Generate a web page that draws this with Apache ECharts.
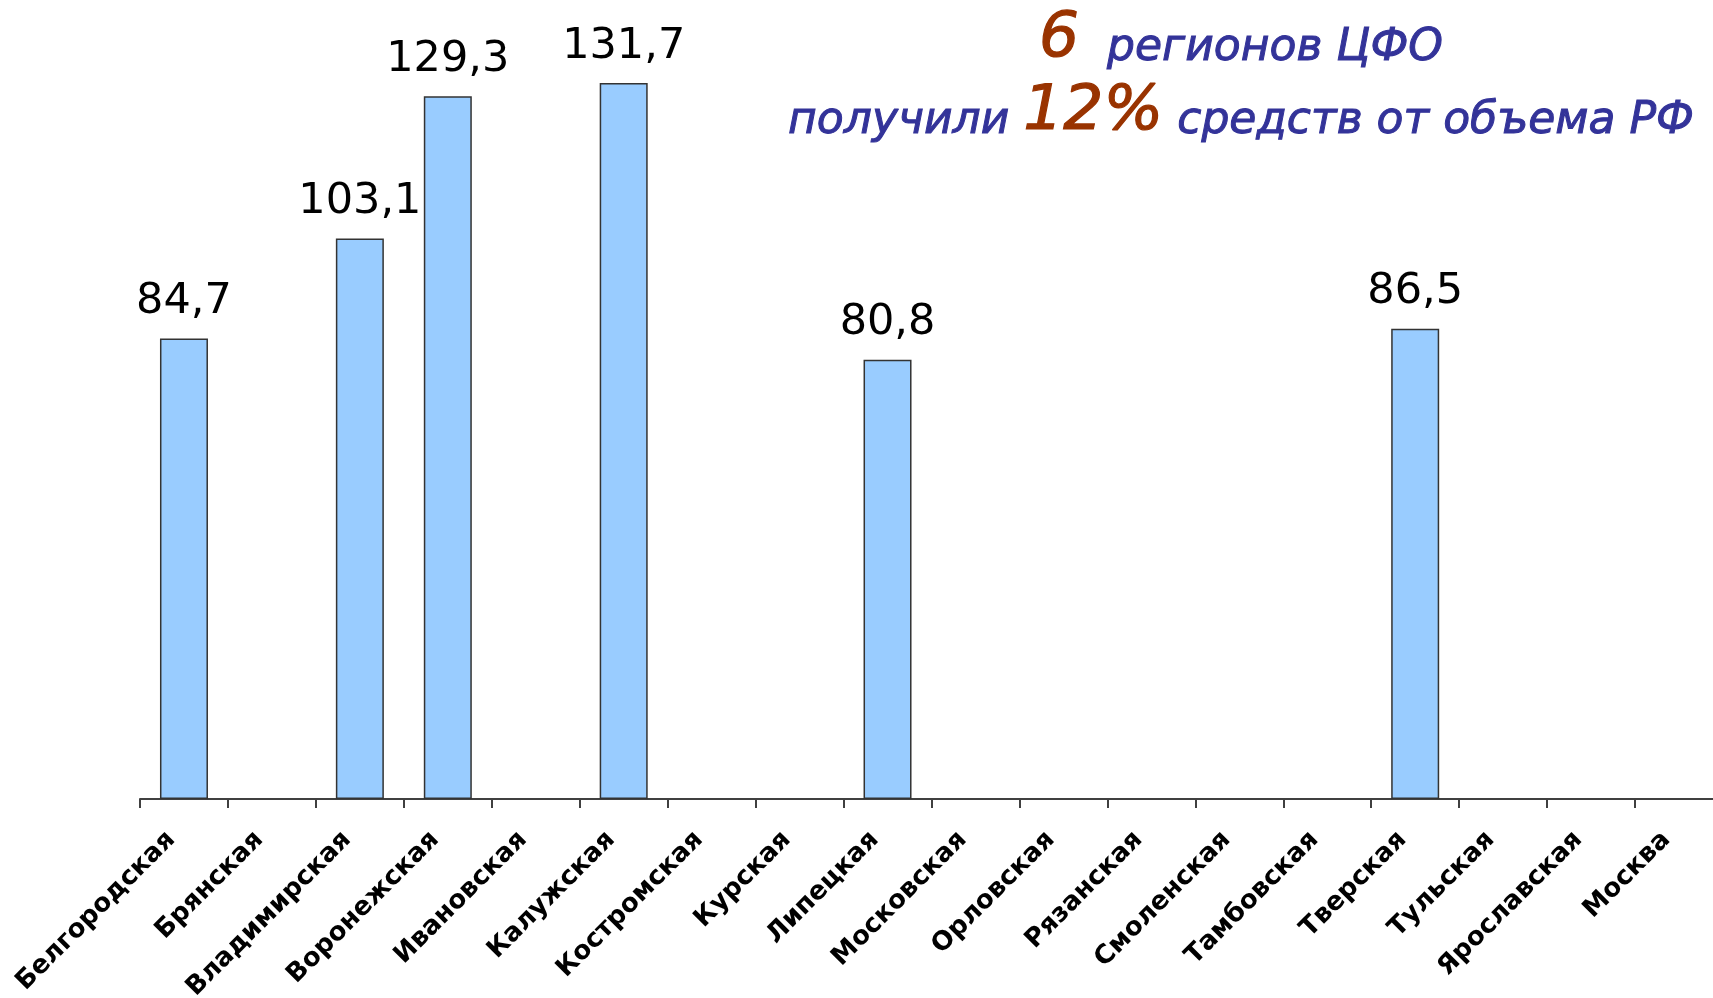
<!DOCTYPE html>
<html>
<head>
<meta charset="utf-8">
<title>Регионы ЦФО</title>
<script src="https://cdn.jsdelivr.net/npm/echarts@6/dist/echarts.min.js"></script>
<style>
    html, body { margin: 0; padding: 0; background: #fff; }
    #chart { width: 1713px; height: 998px; }
</style>
</head>
<body>
<div id="chart"></div>
<script>
var regions = [
    'Белгородская', 'Брянская', 'Владимирская', 'Воронежская', 'Ивановская',
    'Калужская', 'Костромская', 'Курская', 'Липецкая', 'Московская',
    'Орловская', 'Рязанская', 'Смоленская', 'Тамбовская', 'Тверская',
    'Тульская', 'Ярославская', 'Москва'
];
var amounts = [
    84.7, null, 103.1, 129.3, null,
    131.7, null, null, 80.8, null,
    null, null, null, null, 86.5,
    null, null, null
];
var headlineRegions = '6';
var headlineShare = '12%';

var myChart = echarts.init(document.getElementById('chart'));

var option = {
    animation: false,
    title: {
        text: [
            '{big|' + headlineRegions + '}{txt|  регионов ЦФО}',
            '{txt|получили }{big|' + headlineShare + '}{txt| средств от объема РФ}'
        ].join('\n'),
        left: 1236,
        top: -7,
        textAlign: 'center',
        textStyle: {
            fontFamily: 'DejaVu Sans',
            fontStyle: 'italic',
            fontWeight: 'normal',
            rich: {
                big: {
                    fontFamily: 'DejaVu Sans',
                    fontStyle: 'italic',
                    fontWeight: 'normal',
                    fontSize: 63,
                    color: '#993300',
                    textBorderColor: '#993300',
                    textBorderWidth: 1.2,
                    lineHeight: 73,
                    verticalAlign: 'bottom'
                },
                txt: {
                    fontFamily: 'DejaVu Sans',
                    fontStyle: 'italic',
                    fontWeight: 'normal',
                    fontSize: 44,
                    color: '#333399',
                    textBorderColor: '#333399',
                    textBorderWidth: 1,
                    lineHeight: 61,
                    verticalAlign: 'bottom'
                }
            }
        }
    },
    grid: {
        left: 140,
        right: -10,
        top: 38,
        bottom: 199,
        outerBoundsMode: 'none',
        containLabel: false
    },
    xAxis: {
        type: 'category',
        data: regions,
        axisLine: {
            lineStyle: { color: '#404040', width: 2 }
        },
        axisTick: {
            show: true,
            interval: 0,
            length: 9,
            lineStyle: { color: '#404040', width: 2 }
        },
        axisLabel: {
            rotate: 45,
            interval: 0,
            margin: 24,
            padding: [0, 18, 0, 0],
            color: '#000',
            fontFamily: 'DejaVu Sans',
            fontWeight: 'bold',
            fontSize: 26
        }
    },
    yAxis: {
        type: 'value',
        min: 0,
        max: 140,
        show: false,
        splitLine: { show: false }
    },
    series: [
        {
            type: 'bar',
            data: amounts,
            barWidth: 48,
            itemStyle: {
                color: '#99CCFF',
                borderColor: '#333333',
                borderWidth: 1.5
            },
            label: {
                show: true,
                position: 'top',
                distance: 15,
                color: '#000',
                fontFamily: 'DejaVu Sans',
                fontSize: 43,
                formatter: function (p) {
                    return p.value.toFixed(1).replace('.', ',');
                }
            }
        }
    ]
};

myChart.setOption(option);
</script>
</body>
</html>
